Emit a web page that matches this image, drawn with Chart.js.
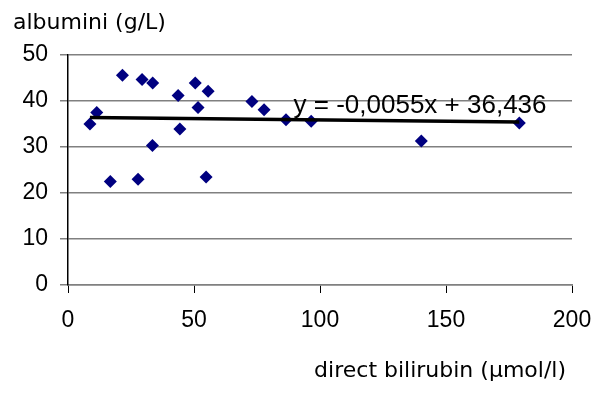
<!DOCTYPE html>
<html>
<head>
<meta charset="utf-8">
<script src="https://cdn.jsdelivr.net/npm/chart.js@4/dist/chart.umd.min.js"></script>
<style>
    body { margin: 0; background: #ffffff; }
    #wrap { width: 600px; height: 398px; }
</style>
</head>
<body>
<div id="wrap"><canvas id="scatter-chart" width="600" height="398"></canvas></div>
<script>
// Datos
const bilirubin = [8.7, 11.4, 16.8, 21.6, 27.8, 29.4, 33.5, 33.6, 43.7, 44.4, 50.5, 51.6, 54.8, 55.6, 73, 77.8, 86.5, 96.5, 140.2, 179.1];
const albumini = [35.0, 37.5, 22.5, 45.6, 23.0, 44.7, 30.3, 43.9, 41.2, 33.9, 43.9, 38.6, 23.5, 42.1, 39.9, 38.1, 35.9, 35.6, 31.3, 35.2];

// Línea de tendencia (coeficientes de la etiqueta)
const trendSlope = -0.0055;
const trendIntercept = 36.436;
const trendLabel = 'y = -0,0055x + 36,436';

const xTitle = 'direct bilirubin (\u03bcmol/l)';
const yTitle = 'albumini (g/L)';

const points = bilirubin.map((x, i) => ({ x: x, y: albumini[i] }));
const xMin = Math.min(...bilirubin);
const xMax = Math.max(...bilirubin);
const trendPoints = [
    { x: xMin, y: trendSlope * xMin + trendIntercept },
    { x: xMax, y: trendSlope * xMax + trendIntercept }
];

// Textos del gráfico (títulos de ejes y ecuación)
const textPlugin = {
    id: 'chartTexts',
    afterDatasetsDraw(chart) {
        const ctx = chart.ctx;
        const area = chart.chartArea;
        const sx = chart.scales.x;
        const sy = chart.scales.y;
        ctx.save();
        ctx.fillStyle = '#000000';

        ctx.font = '26px "Liberation Sans", Arial, sans-serif';
        ctx.textAlign = 'left';
        ctx.textBaseline = 'alphabetic';
        ctx.fillText(trendLabel, sx.getPixelForValue(89.5), sy.getPixelForValue(37.5));

        ctx.font = '22px "DejaVu Sans", Verdana, sans-serif';
        ctx.textBaseline = 'middle';
        ctx.fillText(yTitle, 13, 23);
        ctx.textAlign = 'right';
        ctx.fillText(xTitle, area.right - 6, 371);
        ctx.restore();
    }
};

const ctx = document.getElementById('scatter-chart').getContext('2d');

new Chart(ctx, {
    type: 'scatter',
    data: {
        datasets: [{
            label: 'albumini',
            data: points,
            pointStyle: 'rectRot',
            pointRadius: 6.5,
            pointHoverRadius: 6.5,
            backgroundColor: '#000080',
            borderColor: '#000080',
            borderWidth: 0,
            order: 2
        }, {
            type: 'line',
            label: 'trend',
            data: trendPoints,
            borderColor: '#000000',
            borderWidth: 3.5,
            pointRadius: 0,
            fill: false,
            order: 1
        }]
    },
    options: {
        responsive: false,
        animation: false,
        layout: {
            padding: { top: 55, right: 28, left: 0, bottom: 0 }
        },
        plugins: {
            legend: { display: false },
            tooltip: { enabled: false },
            title: { display: false }
        },
        scales: {
            x: {
                type: 'linear',
                min: 0,
                max: 200,
                afterFit: function (scale) {
                    scale.height = 113;
                    scale.paddingLeft = 0;
                    scale.paddingRight = 0;
                },
                ticks: {
                    stepSize: 50,
                    padding: 14,
                    color: '#000000',
                    maxRotation: 0,
                    font: { family: '"Liberation Sans", Arial, sans-serif', size: 23 }
                },
                grid: {
                    drawOnChartArea: false,
                    drawTicks: true,
                    tickLength: 8,
                    tickColor: '#000000',
                    tickWidth: 1
                },
                border: { color: '#808080', width: 1.5 }
            },
            y: {
                min: 0,
                max: 50,
                afterFit: function (scale) { scale.width = 68; },
                ticks: {
                    stepSize: 10,
                    padding: 12,
                    color: '#000000',
                    font: { family: '"Liberation Sans", Arial, sans-serif', size: 23 }
                },
                grid: {
                    color: '#808080',
                    lineWidth: 1.5,
                    drawTicks: true,
                    tickLength: 8
                },
                border: { color: '#000000', width: 1.5 }
            }
        }
    },
    plugins: [textPlugin]
});
</script>
</body>
</html>
